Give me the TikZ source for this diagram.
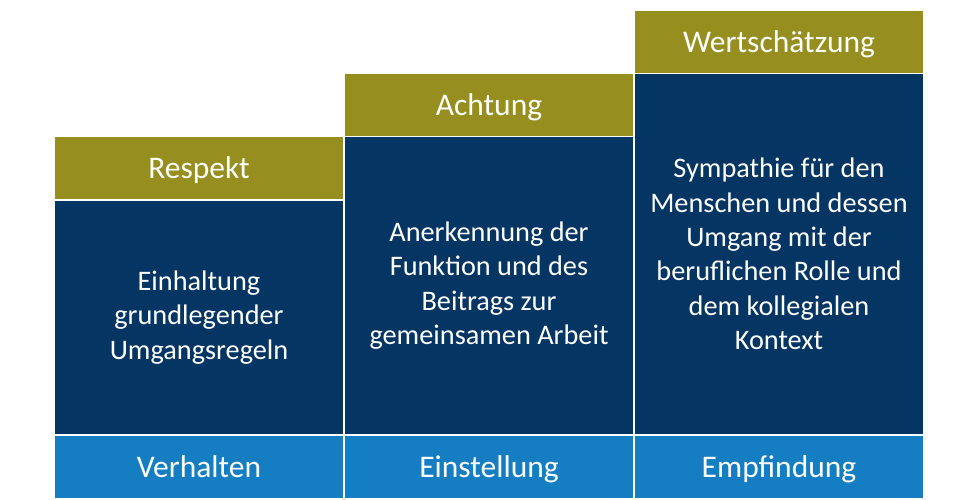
\documentclass[tikz,border=0pt]{standalone}
\usepackage{fontspec}
\setmainfont{Carlito}
\definecolor{olivebar}{RGB}{150,143,31}
\definecolor{navybox}{RGB}{5,53,99}
\definecolor{bluebar}{RGB}{21,125,193}
\tikzset{
  cell/.style={rectangle, inner sep=0pt, outer sep=0pt, minimum width=288pt, text=white, align=center},
  headbox/.style={cell, fill=olivebar, minimum height=62pt, text height=25pt, text depth=4pt, font=\fontsize{31.5}{37.8}\selectfont},
  bodybox/.style={cell, fill=navybox, font=\fontsize{28.3}{34.3}\selectfont},
  footbox/.style={cell, fill=bluebar, minimum height=62pt, text height=25pt, text depth=4pt, font=\fontsize{31.5}{37.8}\selectfont},
}
\begin{document}
\begin{tikzpicture}[x=1pt,y=-1pt]
\useasboundingbox (0,0) rectangle (974,499);
% column 1
\node[headbox] (h1) at (199,168) {Respekt};
\node[bodybox, minimum height=233pt] (b1) at (199,317.5) {Einhaltung\\grundlegender\\Umgangsregeln};
\node[footbox] (f1) at (199,467) {Verhalten};
% column 2
\node[headbox] (h2) at (489,104.5) {Achtung};
\node[bodybox, minimum height=297pt] (b2) at (489,285.5) {Anerkennung der\\Funktion und des\\Beitrags zur\\gemeinsamen Arbeit};
\node[footbox] (f2) at (489,467) {Einstellung};
% column 3
\node[headbox] (h3) at (779,41.5) {Wertschätzung};
\node[bodybox, minimum height=360pt] (b3) at (779,254) {Sympathie für den\\Menschen und dessen\\Umgang mit der\\beruflichen Rolle und\\dem kollegialen\\Kontext};
\node[footbox] (f3) at (779,467) {Empfindung};
\end{tikzpicture}
\end{document}
